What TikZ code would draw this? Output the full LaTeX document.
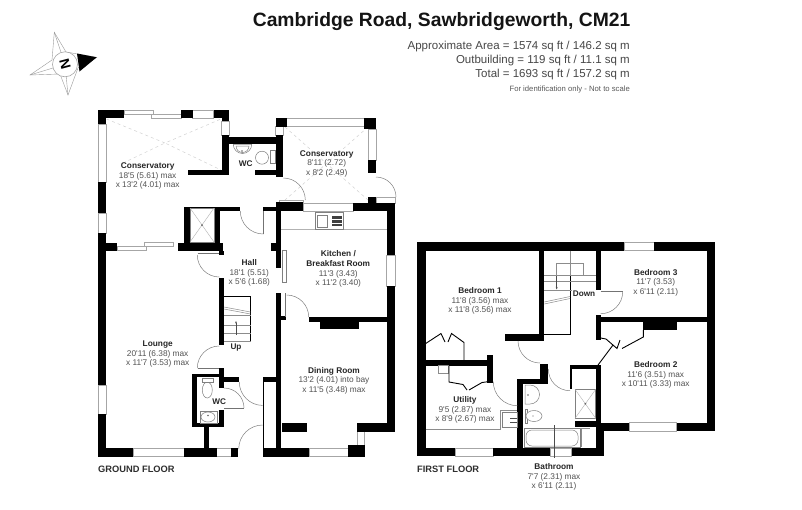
\documentclass[tikz,border=0pt]{standalone}
\usepackage{fontspec}
\newfontfamily\planfont{Liberation Sans}
\usepackage{tikz}
\usetikzlibrary{arrows.meta}
\tikzset{
	wall/.style={fill=black},
	glass/.style={draw=black!35, fill=white, line width=0.5pt},
	door/.style={draw=black!50, line width=0.5pt},
	leaf/.style={draw=black!55, line width=0.7pt},
	fixture/.style={draw=black!50, fill=white, line width=0.5pt},
	tread/.style={draw=black!45, line width=0.5pt},
	roof/.style={draw=black!18, line width=0.5pt, dashed},
	closet/.style={draw=black, line width=0.9pt},
	room/.style={align=center, inner sep=0pt, text=black!68, font=\planfont\fontsize{8.3}{9.7}\selectfont},
	tag/.style={inner sep=0pt, text=black!85, font=\planfont\bfseries\fontsize{8.2}{9.7}\selectfont},
	floorname/.style={anchor=west, inner sep=0pt, text=black!82, font=\planfont\bfseries\fontsize{9.3}{10}\selectfont},
	arealine/.style={anchor=east, inner sep=0pt, text=black!72, font=\planfont\fontsize{11.5}{13}\selectfont}
}
\def\swing(#1,#2)(#3:#4:#5){\draw[door] (#1,#2) ++(#3:#5) arc (#3:#4:#5);}
\def\rname#1{{\bfseries\textcolor{black!85}{#1}}}

\begin{document}
\begin{tikzpicture}[x=1pt, y=-1pt]
		\useasboundingbox (0, 0) rectangle (802, 509);
		\fill[white] (0, 0) rectangle (802, 509);

		%%%%% HEADING %%%%%
		\node[anchor=east, inner sep=0pt, text=black!92, font=\planfont\bfseries\fontsize{19.3}{21}\selectfont] (title) at (630.5, 22) {Cambridge Road, Sawbridgeworth, CM21};
		\node[arealine] (area) at (630, 46.7) {Approximate Area = 1574 sq ft / 146.2 sq m};
		\node[arealine] (outb) at (630, 60.3) {Outbuilding = 119 sq ft / 11.1 sq m};
		\node[arealine] (total) at (630, 74.3) {Total = 1693 sq ft / 157.2 sq m};
		\node[anchor=east, inner sep=0pt, text=black!65, font=\planfont\fontsize{7.7}{9}\selectfont] (scale) at (630, 89.3) {For identification only - Not to scale};

		%%%%% COMPASS %%%%%
		\draw[black!40, line width=0.4pt, fill=white] (54.3, 32.3) -- (66, 52) -- (96.7, 57.3) -- (78, 68) -- (68, 95) -- (60, 74) -- (30, 75) -- (52, 60) -- cycle;
		\draw[black!40, line width=0.4pt] (54.3, 32.3) -- (65, 64.3) -- (30, 75);
		\draw[black!40, line width=0.4pt] (68, 95) -- (65, 64.3);
		\fill[black] (77, 53.5) -- (96.7, 57.3) -- (79.5, 71.5) -- cycle;
		\draw[black!35, line width=0.6pt, fill=white] (65, 64.3) circle (12.5);
		\node[inner sep=0pt, rotate=-75, text=black, font=\planfont\bfseries\fontsize{14}{14}\selectfont] (north) at (65, 64.3) {N};

		%%%%% GROUND FLOOR %%%%%
		% roof lines of the conservatories
		\draw[roof] (106.5, 119) -- (165, 143) -- (221, 119);
		\draw[roof] (123, 163) -- (165, 143) -- (221, 170);
		\draw[roof] (285, 127) -- (368, 200);
		\draw[roof] (368, 127) -- (285, 200);

		% windows first, walls go over them
		\draw[glass] (124, 110) rectangle (153, 114);
		\draw[glass] (151.5, 114) rectangle (181, 118);
		\draw[glass] (192.7, 110) rectangle (213.5, 118);
		\draw[glass] (221.7, 121) rectangle (229.3, 135);
		\draw[glass] (98.3, 124) rectangle (106, 182);
		\draw[glass] (98.3, 213) rectangle (106, 233);
		\draw[glass] (117, 246.5) rectangle (146, 250.5);
		\draw[glass] (144.5, 242.5) rectangle (173.5, 246.5);
		\draw[glass] (286.7, 118) rectangle (364, 126);
		\draw[glass] (275.7, 126.7) rectangle (283.3, 135);
		\draw[glass] (368.3, 129) rectangle (376, 160);
		\draw[glass] (303, 203) rectangle (353.3, 211);
		\draw[glass] (386.7, 255) rectangle (395, 286);
		\draw[glass] (98.3, 385) rectangle (106, 414);
		\draw[glass] (133, 448) rectangle (184.3, 456.7);
		\draw[glass] (216.7, 448) rectangle (231, 456.7);
		\draw[glass] (309, 448) rectangle (348, 456.7);
		\draw[glass] (357, 431.7) rectangle (364, 445);
		\draw[glass] (376, 197) rectangle (395, 203);
		\draw[glass] (279, 200) rectangle (303.3, 202.5);

		% conservatory walls
		\fill[wall] (98.3, 110) rectangle (124.3, 118);
		\fill[wall] (98.3, 110) rectangle (106, 124);
		\fill[wall] (180.7, 110) rectangle (192.7, 118);
		\fill[wall] (213.5, 110) rectangle (229.3, 118);
		\fill[wall] (221.7, 110) rectangle (229.3, 121);
		\fill[wall] (98.3, 182) rectangle (106, 213);
		\fill[wall] (221.7, 135) rectangle (229.3, 175);
		\fill[wall] (221.7, 136.7) rectangle (283.3, 144.3);
		\fill[wall] (275.7, 135) rectangle (283.3, 177);
		\fill[wall] (188, 170) rectangle (229.3, 175);
		\fill[wall] (255, 170) rectangle (283.3, 175);
		\fill[wall] (275.7, 117.7) rectangle (286.7, 126.7);
		\fill[wall] (364, 117.7) rectangle (376, 129);
		\fill[wall] (368.3, 160) rectangle (376, 173);
		\fill[wall] (368.3, 197) rectangle (376, 205);

		% shower block and hall top
		\fill[wall] (184, 206.7) rectangle (240, 211);
		\fill[wall] (184, 206.7) rectangle (190, 245);
		\fill[wall] (214, 206.7) rectangle (220, 245);
		\fill[wall] (263, 206.7) rectangle (278, 211);
		\fill[wall] (271, 242.7) rectangle (276.7, 250.7);
		\draw[fixture] (190, 208) rectangle (214, 242);
		\draw[black!30, line width=0.4pt] (190, 208) -- (214, 242);
		\draw[black!30, line width=0.4pt] (214, 208) -- (190, 242);
		\fill[black!60] (202, 225) circle (1);

		% kitchen and dining room shell
		\fill[wall] (278, 201.7) rectangle (303, 211);
		\fill[wall] (353.3, 203) rectangle (395, 211);
		\fill[wall] (386.7, 203) rectangle (395, 255);
		\fill[wall] (386.7, 286) rectangle (395, 431.7);
		\fill[wall] (309, 316.7) rectangle (387, 322);
		\fill[wall] (320, 322) rectangle (359, 329);
		\fill[wall] (275.7, 201.7) rectangle (280.7, 268.3);
		\fill[wall] (275.7, 293) rectangle (280.7, 456.7);
		\fill[wall] (280, 316) rectangle (285.7, 320);
		\fill[wall] (356.7, 423) rectangle (395, 431.7);
		\fill[wall] (348, 445) rectangle (365, 456.7);
		\fill[wall] (281.7, 423) rectangle (307, 431.7);
		\fill[wall] (262.7, 448) rectangle (309, 456.7);
		\draw[leaf] (285, 293) -- (285, 317);

		% lounge and hall
		\fill[wall] (98.3, 233) rectangle (106, 385);
		\fill[wall] (98.3, 414) rectangle (106, 456.7);
		\fill[wall] (98.3, 242.7) rectangle (117, 250.7);
		\fill[wall] (178, 242.7) rectangle (223, 250.7);
		\fill[wall] (219.3, 250.7) rectangle (224, 255);
		\fill[wall] (219.3, 278) rectangle (224, 345);
		\fill[wall] (98.3, 448) rectangle (133, 456.7);
		\fill[wall] (184.3, 448) rectangle (216.7, 456.7);
		\fill[wall] (231, 448) rectangle (237.7, 456.7);
		\fill[wall] (204, 426.7) rectangle (209.3, 448);
		\fill[wall] (262.7, 377.3) rectangle (275.7, 382.3);
		\fill[wall] (262.7, 382) rectangle (264.4, 448);

		% ground floor wc
		\fill[wall] (192.3, 374) rectangle (197.3, 426.7);
		\fill[wall] (192.3, 374) rectangle (224, 377.3);
		\fill[wall] (219.3, 368) rectangle (224, 388);
		\fill[wall] (224, 377.3) rectangle (239.3, 382.3);
		\fill[wall] (219.3, 410) rectangle (224, 426.7);
		\fill[wall] (192.3, 423) rectangle (224, 426.7);

		% doors
		\swing(263.3,211)(180:90:23)
		\draw[leaf] (263.3, 211) -- (263.3, 234);
		\swing(283.3,200)(270:360:22)
		\swing(376,197)(270:360:20)
		\swing(219.3,255)(180:90:22)
		\draw[leaf] (197.5, 253.5) -- (219.3, 253.5);
		\swing(219.3,368)(180:270:22)
		\draw[leaf] (197.5, 368.5) -- (219.3, 368.5);
		\swing(224,408)(270:360:20)
		\draw[leaf] (224, 408.5) -- (244, 408.5);
		\swing(262.7,382)(180:90:23.4)
		\swing(262.7,449)(180:270:24)
		\swing(286.7,317)(270:360:22)

		% stairs up
		\draw[black, line width=0.9pt] (224, 296) -- (250.5, 296) -- (250.5, 341.7);
		\draw[tread] (224, 307) -- (250.5, 312);
		\draw[tread] (224, 309) -- (250.5, 314);
		\draw[tread] (224, 315) -- (250.5, 315);
		\draw[tread] (224, 325) -- (250.5, 325);
		\draw[tread] (224, 333.5) -- (250.5, 333.5);
		\draw[tread] (224, 341.7) -- (250.5, 341.7);
		\draw[tread, -{Stealth[length=2.5pt]}, black!70] (236, 335) -- (236, 321);

		% kitchen fittings
		\draw[tread, black!30] (281, 229.3) -- (386.7, 229.3);
		\draw[fixture] (315, 212) rectangle (343, 229);
		\draw[fixture] (317, 215) rectangle (327, 227);
		\fill[black!75] (332, 216) rectangle (342, 226);
		\fill[white] (332, 219) rectangle (342, 220);
		\fill[white] (332, 222.5) rectangle (342, 223.5);
		\draw[fixture] (282, 250) rectangle (286, 282);

		% wc fittings
		\draw[fixture] (233.3, 144.3) -- (251.7, 144.3) arc (0:180:9.2);
		\draw[fixture] (236, 146) -- (249, 146) arc (0:180:6.5);
		\fill[black!60] (242, 151) circle (0.8);
		\draw[fixture] (262, 157.7) circle (6.5);
		\draw[fixture] (270, 150) rectangle (275.7, 163);
		\draw[fixture] (207.3, 390) ellipse (5 and 8);
		\draw[fixture] (202, 378) rectangle (213, 382);
		\draw[fixture] (200, 411) rectangle (217, 423);
		\draw[fixture] (208, 417) ellipse (7 and 5);
		\fill[black!60] (208, 415.5) circle (0.8);

		%%%%% FIRST FLOOR %%%%%
		\draw[glass] (624.3, 242.3) rectangle (654.3, 250.7);
		\draw[glass] (455, 448.3) rectangle (493.3, 456);
		\draw[glass] (550, 448.3) rectangle (571.7, 456);
		\draw[glass] (629, 422.7) rectangle (676.7, 431);

		% outer walls
		\fill[wall] (417.3, 242.3) rectangle (624.3, 250.7);
		\fill[wall] (654.3, 242.3) rectangle (715, 250.7);
		\fill[wall] (417.3, 242.3) rectangle (425.7, 456);
		\fill[wall] (706.7, 242.3) rectangle (715, 431);
		\fill[wall] (417.3, 448.3) rectangle (455, 456);
		\fill[wall] (493.3, 448.3) rectangle (550, 456);
		\fill[wall] (571.7, 448.3) rectangle (604, 456);
		\fill[wall] (595.7, 427) rectangle (604, 456);
		\fill[wall] (600.7, 422.7) rectangle (629, 431);
		\fill[wall] (676.7, 422.7) rectangle (715, 431);

		% inner walls
		\fill[wall] (539.3, 250) rectangle (544.3, 341);
		\fill[wall] (505, 334) rectangle (544.3, 341);
		\fill[wall] (595.7, 250) rectangle (600.7, 290);
		\fill[wall] (595.7, 316.7) rectangle (707, 321.7);
		\fill[wall] (595.7, 315) rectangle (600.7, 340);
		\fill[wall] (643.3, 321.7) rectangle (676.7, 330);
		\fill[wall] (570, 365) rectangle (600.7, 369);
		\fill[wall] (595.7, 365) rectangle (600.7, 430);
		\fill[wall] (575, 420.7) rectangle (600, 427.3);
		\fill[wall] (570, 365) rectangle (571.7, 389.3);
		\fill[wall] (517.3, 379.3) rectangle (523.3, 448.3);
		\fill[wall] (517.3, 379.3) rectangle (548.3, 384);
		\fill[wall] (540, 364) rectangle (548.3, 384);
		\fill[wall] (425.7, 360) rectangle (490, 365.7);
		\fill[wall] (487.3, 355) rectangle (492.7, 383.3);

		% stairs down
		\draw[black, line width=0.9pt] (544, 334.5) -- (570, 334.5) -- (570, 275.7);
		\draw[tread] (570, 250.7) -- (570, 275.7);
		\draw[tread] (556.7, 275.7) rectangle (583.3, 263.3);
		\draw[tread] (544.3, 275.7) -- (595.7, 275.7);
		\draw[tread] (544.3, 281.7) -- (595.7, 281.7);
		\draw[tread] (544.3, 290) -- (595.7, 290);
		\draw[tread] (544.3, 302) -- (570, 296.5);
		\draw[tread] (544.3, 304) -- (570, 298.5);
		\draw[tread, -{Stealth[length=2.5pt]}, black!70] (556.7, 276) -- (556.7, 289.5);

		% wardrobes
		\draw[closet] (425.7, 343.5) -- (441, 333.5);
		\draw[closet] (441, 333.5) -- (445, 342);
		\draw[closet] (448, 342) -- (451.5, 333.5) -- (464, 342.5) -- (464, 360);
		\draw[tread] (438.3, 365.7) rectangle (448, 373.3);
		\draw[closet] (449, 365.7) -- (449, 382) -- (463, 384.5) -- (467, 390);
		\draw[closet] (469, 390) -- (482, 382.5) -- (488, 381.7);
		\draw[closet] (600.7, 338) -- (606, 339) -- (617, 348.5) -- (620, 340);
		\draw[closet] (622, 348.5) -- (643.3, 337) -- (643.3, 330);
		\draw[closet] (613, 345) -- (598, 365);

		% doors
		\swing(600.7,291.7)(0:90:22)
		\draw[leaf] (600.7, 291) -- (622.7, 291);
		\swing(540,341)(180:90:22)
		\swing(570,369)(180:90:21.7)
		\swing(517.3,381.7)(180:90:24)

		% utility fittings
		\draw[tread] (425.7, 429.3) -- (500, 429.3) -- (500, 410) -- (517.3, 410);
		\draw[fixture] (502.7, 412) rectangle (517.3, 427.3);
		\draw[black!70, line width=0.7pt] (510, 418) -- (517, 418);
		\draw[black!70, line width=0.7pt] (510, 422) -- (517, 422);

		% bathroom fittings
		\draw[fixture] (525, 385) -- (530, 385) arc (-90:90:9.5 and 9.5) -- (525, 404) -- cycle;
		\fill[black!60] (528, 395) circle (0.8);
		\draw[fixture] (525, 409) rectangle (527, 423);
		\draw[fixture] (534, 416) ellipse (8 and 5.5);
		\fill[black!60] (533, 416) circle (0.7);
		\draw[fixture] (524, 428.3) rectangle (580, 447.3);
		\draw[fixture, rounded corners=6pt] (526, 430) rectangle (578, 446);
		\draw[tread] (580, 428.3) -- (590, 428.3) (581.5, 428.3) -- (581.5, 447.3);
		\draw[fixture] (575, 389.3) rectangle (595.7, 418.3);
		\draw[black!30, line width=0.4pt] (575, 389.3) -- (595.7, 418.3);
		\draw[black!30, line width=0.4pt] (595.7, 389.3) -- (575, 418.3);
		\fill[black!60] (585.3, 403.8) circle (1);
		\draw[black!70, line width=0.4pt] (554, 425) -- (554, 458);

		%%%%% LABELS %%%%%
		\node[room] (conserva) at (147.7, 176) {\rname{Conservatory}\\18'5 (5.61) max\\x 13'2 (4.01) max};
		\node[room] (conservb) at (326.7, 163.7) {\rname{Conservatory}\\8'11 (2.72)\\x 8'2 (2.49)};
		\node[room] (hall) at (249.3, 273) {\rname{Hall}\\18'1 (5.51)\\x 5'6 (1.68)};
		\node[room] (kitchen) at (338.3, 269.2) {\rname{Kitchen /}\\\rname{Breakfast Room}\\11'3 (3.43)\\x 11'2 (3.40)};
		\node[room] (lounge) at (157.7, 354) {\rname{Lounge}\\20'11 (6.38) max\\x 11'7 (3.53) max};
		\node[room] (dining) at (334, 380.7) {\rname{Dining Room}\\13'2 (4.01) into bay\\x 11'5 (3.48) max};
		\node[room] (bedone) at (480, 301) {\rname{Bedroom 1}\\11'8 (3.56) max\\x 11'8 (3.56) max};
		\node[room] (bedthree) at (655.7, 282.7) {\rname{Bedroom 3}\\11'7 (3.53)\\x 6'11 (2.11)};
		\node[room] (bedtwo) at (655.7, 375) {\rname{Bedroom 2}\\11'6 (3.51) max\\x 10'11 (3.33) max};
		\node[room] (utility) at (465, 410) {\rname{Utility}\\9'5 (2.87) max\\x 8'9 (2.67) max};
		\node[room] (bathroom) at (554, 477) {\rname{Bathroom}\\7'7 (2.31) max\\x 6'11 (2.11)};
		\node[tag] (wcup) at (245.7, 163.3) {WC};
		\node[tag] (wcdown) at (219.3, 401.3) {WC};
		\node[tag] (up) at (236, 348) {Up};
		\node[tag, fill=white, inner sep=0.5pt] (down) at (584, 293.7) {Down};
		\node[floorname] (ground) at (98, 469.3) {GROUND FLOOR};
		\node[floorname] (first) at (417, 469.3) {FIRST FLOOR};
	\end{tikzpicture}
\end{document}
